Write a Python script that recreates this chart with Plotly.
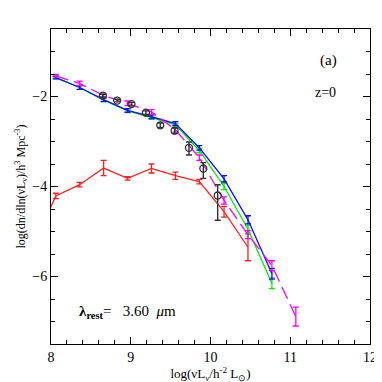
import plotly.graph_objects as go

# Model bins (log L)
x_model = [8.06, 8.36, 8.66, 8.96, 9.26, 9.56, 9.86, 10.17, 10.47, 10.77]
blue_y = [-1.58, -1.80, -2.07, -2.31, -2.45, -2.60, -3.14, -3.83, -4.74, -5.94]
blue_err = [0.03, 0.04, 0.04, 0.04, 0.04, 0.04, 0.05, 0.07, 0.09, 0.12]
green_y = [-1.58, -1.80, -2.08, -2.32, -2.47, -2.63, -3.20, -4.00, -4.95, -6.15]
green_err = [0.03, 0.04, 0.04, 0.04, 0.04, 0.04, 0.05, 0.07, 0.09, 0.12]

x_mag = [8.06, 8.36, 8.66, 8.96, 9.26, 9.56, 9.86, 10.17, 10.47, 10.77, 11.07]
mag_y = [-1.54, -1.71, -1.98, -2.15, -2.34, -2.74, -3.36, -4.31, -5.07, -5.76, -6.89]
mag_err = [0.03, 0.05, 0.04, 0.05, 0.05, 0.05, 0.06, 0.08, 0.09, 0.11, 0.21]

x_red = [7.76, 8.06, 8.36, 8.66, 8.96, 9.26, 9.56, 9.86, 10.17, 10.47]
red_y = [-5.4, -4.21, -3.96, -3.59, -3.82, -3.60, -3.76, -3.89, -4.56, -5.35]
red_err = [0.1, 0.06, 0.05, 0.17, 0.04, 0.10, 0.08, 0.05, 0.12, 0.30]

x_obs = [8.65, 8.83, 9.01, 9.19, 9.37, 9.55, 9.73, 9.91, 10.09]
obs_y = [-1.98, -2.09, -2.17, -2.36, -2.64, -2.76, -3.14, -3.60, -4.20]
obs_err_plus = [0.03, 0.03, 0.04, 0.04, 0.05, 0.06, 0.13, 0.13, 0.24]
obs_err_minus = [0.03, 0.03, 0.04, 0.04, 0.05, 0.06, 0.16, 0.22, 0.55]

fig = go.Figure()

def model_trace(x, y, err, color, dash="solid"):
    return go.Scatter(
        x=x, y=y, mode="lines",
        line=dict(color=color, width=1.3, dash=dash),
        error_y=dict(type="data", array=err, color=color, thickness=1.3, width=3),
        showlegend=False, cliponaxis=True,
    )

fig.add_trace(model_trace(x_red, red_y, red_err, "#ff2020"))
fig.add_trace(model_trace(x_model, green_y, green_err, "#00ee00"))
fig.add_trace(model_trace(x_model, blue_y, blue_err, "#1010ff"))
fig.add_trace(model_trace(x_mag, mag_y, mag_err, "#ff00ff", dash="13px,6px"))
fig.add_trace(go.Scatter(
    x=x_obs, y=obs_y, mode="markers",
    marker=dict(symbol="circle-open", size=7, color="#333333", line=dict(width=1.3)),
    error_y=dict(type="data", symmetric=False, array=obs_err_plus, arrayminus=obs_err_minus,
                 color="#333333", thickness=1.4, width=3),
    showlegend=False,
))

font = "Liberation Serif"
axis_common = dict(
    showline=True, linecolor="black", linewidth=1, mirror="allticks",
    ticks="inside", ticklen=7, tickcolor="black", showgrid=False, zeroline=False,
    tickfont=dict(family=font, size=14, color="black"),
)
fig.update_xaxes(range=[8, 12], dtick=1, tick0=8,
                 minor=dict(dtick=0.2, ticklen=4, ticks="inside", tickcolor="black"),
                 title=dict(text="log(νL<sub>ν</sub>/h<sup>-2</sup> L<sub>⊙</sub>)",
                            font=dict(family=font, size=13, color="black"), standoff=4),
                 **axis_common)
fig.update_yaxes(range=[-7.5, -0.5], dtick=2, tick0=-6,
                 minor=dict(dtick=0.5, ticklen=4, ticks="inside", tickcolor="black"),
                 title=dict(text="log(dn/dln(νL<sub>ν</sub>)/h<sup>3</sup> Mpc<sup>-3</sup>)",
                            font=dict(family=font, size=12, color="black"), standoff=4),
                 tickformat="d", **axis_common)

fig.add_annotation(x=11.48, y=-1.21, text="(a)", showarrow=False,
                   font=dict(family=font, size=15, color="black"), xref="x", yref="y")
fig.add_annotation(x=11.44, y=-1.9, text="z=0", showarrow=False,
                   font=dict(family=font, size=14, color="black"), xref="x", yref="y")
fig.add_annotation(x=8.33, y=-6.78, xanchor="left",
                   text="<b>λ<sub>rest</sub></b>=   3.60  <i>μ</i>m", showarrow=False,
                   font=dict(family=font, size=15, color="black"), xref="x", yref="y")

fig.update_layout(
    width=382, height=382,
    margin=dict(l=42, r=20, t=21, b=41),
    paper_bgcolor="white", plot_bgcolor="white",
)
fig.write_html("out.html")
